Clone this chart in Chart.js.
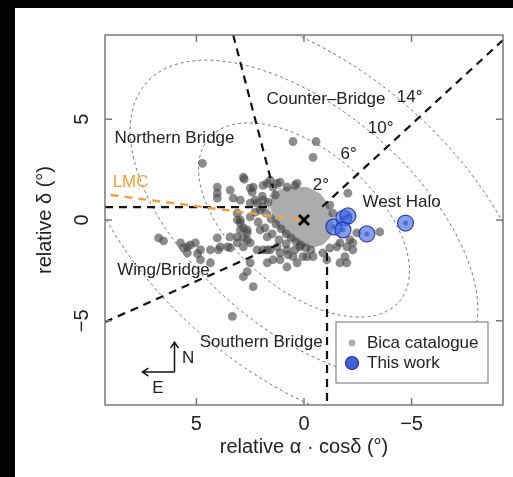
<!DOCTYPE html>
<html>
<head>
<meta charset="utf-8">
<title>SMC clusters</title>
<script src="https://cdn.jsdelivr.net/npm/chart.js@4.4.0/dist/chart.umd.min.js"></script>
<style>
  html, body { margin: 0; padding: 0; background: #000; }
  #wrap { position: absolute; left: 15px; top: 8px; width: 498px; height: 469px; background: #fff; }
</style>
</head>
<body>
<div id="wrap"><canvas id="smcChart" width="498" height="469"></canvas></div>
<script>
// ---- data (degrees, relative to SMC centre) ----
const bicaX = [0.51, -0.56, -0.42, 4.72, -2.04, 2.78, 4.03, 4.03, 4.03, 3.43, 2.96, 2.36, 1.71, 1.44, 1.11, 0.79, 0.32,
  2.82, 2.50, 1.90, 1.57, 1.25, 0.42, 2.18, 2.04, 2.50, 2.96, 2.64, 2.04, 1.71, 2.64, 3.10, 2.18, 1.71, 1.25, 0.79,
  0.19, -0.14, 0.51, 1.11, 1.71, 2.50, 2.82, 2.36, 1.44, 3.33, 6.76, 6.53, 5.74, 5.42, 5.05, 4.81, 4.95, 4.35, 3.98,
  3.56, 4.03, 3.43, 4.35, 4.81, 5.42, -1.20, -1.34, -2.13, -1.99, -2.45, -1.53, -1.20, -0.88, -0.42, 0.05, 0.42,
  -2.27, -1.99, -2.27, -3.52, -1.67, -1.90, -1.67, -1.06, 2.82, 2.96, 3.10, 2.50, 1.90, 1.90, 2.50, 2.82, 3.10, 1.57,
  1.11, 0.74, 2.27, 1.94, 1.67, 1.94, 1.76, 1.53, 1.30, 1.06, 0.83, 0.60, 0.37, 0.14, -0.09, -0.32, 2.13, 1.81, 1.48,
  1.16, 0.83, 2.27, 2.41, 1.34, 3.29, 3.10, 2.96, 2.82, 3.43, 3.89, 5.28, 5.60, 2.64, 2.64, 0.79, 0.32];
const bicaY = [3.89, 3.89, 3.10, 2.81, 1.33, 2.02, 1.63, 1.33, 1.08, 1.48, 0.99, 1.63, 1.82, 1.63, 1.87, 1.63, 1.82,
  2.12, 1.58, 1.72, 1.97, 1.82, 1.72, 0.84, 0.49, 0.15, -0.15, -0.49, -0.49, -0.84, -0.99, -1.13, -1.48, -1.48, -1.33,
  -1.48, -1.33, -1.82, -1.82, -1.97, -2.12, -2.12, -2.81, -3.30, -1.97, -4.78, -0.89, -1.03, -1.13, -1.33, -1.13,
  -1.48, -1.67, -1.48, -1.48, -1.33, -0.89, -0.84, -2.12, -1.97, -1.63, 0.74, 0.34, -0.99, -1.33, -0.64, -1.33, -1.38,
  -1.63, -1.82, -1.82, -1.48, -1.48, -2.12, -1.13, -0.59, -1.13, -1.82, -2.12, -1.97, -0.39, 0.00, 0.34, 0.84, 0.99,
  -1.48, -1.13, -1.33, -0.84, -1.48, -1.63, -1.72, 0.99, 1.18, 0.89, 0.64, 0.34, 0.05, -0.20, -0.44, -0.69, -0.89,
  -1.08, -1.23, -1.38, -1.48, -0.10, -0.39, -0.69, -0.99, -1.18, 0.39, 1.38, 1.23, 1.08, 0.00, -0.49, -0.89, -1.38,
  -1.33, -1.23, -1.38, -0.64, -2.56, -2.33, -2.12];

// outline of the dense Bica core
const coreX = [1.44, 0.79, -0.14, -0.74, -1.11, -1.30, -1.39, -1.20, -0.88, -0.42, 0.09, 0.65, 1.11, 1.44, 1.57, 1.53];
const coreY = [1.38, 1.63, 1.63, 1.33, 0.84, 0.25, -0.39, -0.89, -1.23, -1.38, -1.28, -0.94, -0.49, 0.05, 0.64, 1.08];

const workX = [-1.39, -1.85, -2.04, -1.81, -2.92, -4.72];
const workY = [-0.34, 0.10, 0.20, -0.49, -0.69, -0.15];

// region boundaries (start, end)
const boundX = [[3.29, 1.44], [-9.25, -0.83], [9.25, 1.67], [9.25, 1.02], [-1.07, -1.07]];
const boundY = [[9.17, 1.59], [8.92, 0.64], [0.64, 0.64], [-5.06, -1.14], [-1.64, -9.17]];
const lmcX = [8.99, 0.1];
const lmcY = [1.24, 0.0];

// elliptical distance contours
const contourLabels = ['2°', '6°', '10°', '14°'];
const contourMajor = [2, 6, 10, 13];
const contourMinor = [1.15, 3.35, 5.3, 7.4];
const contourAngle = 44; // degrees

const xTicks = [5, 0, -5];
const yTicks = [5, 0, -5];

const FONT = '"Liberation Sans", Arial, Helvetica, sans-serif';
const fmt = v => (v < 0 ? '\u2212' + Math.abs(v) : String(v));

const labels = [
  { text: 'Counter\u2013Bridge', x: -1.02, y: 6.0 },
  { text: '14°', x: -4.91, y: 6.1 },
  { text: '10°', x: -3.56, y: 4.55 },
  { text: '6°', x: -2.08, y: 3.28 },
  { text: '2°', x: -0.79, y: 1.72 },
  { text: 'West Halo', x: -4.54, y: 0.9 },
  { text: 'Northern Bridge', x: 6.02, y: 4.05 },
  { text: 'Wing/Bridge', x: 6.53, y: -2.48 },
  { text: 'Southern Bridge', x: 1.99, y: -6.05 },
  { text: 'LMC', x: 8.06, y: 1.87, color: '#f0a032' }
];

const pts = (xs, ys) => xs.map((x, i) => ({ x, y: ys[i] }));

const boundSets = boundX.map((bx, i) => ({
  data: pts(bx, boundY[i]), showLine: true, borderColor: '#111', borderWidth: 2.2,
  borderDash: [8, 6], pointRadius: 0, order: 3
}));

const extras = {
  id: 'extras',
  beforeDatasetsDraw(chart) {
    const { ctx, chartArea: a, scales: { x, y } } = chart;
    ctx.save();
    ctx.beginPath(); ctx.rect(a.left, a.top, a.width, a.height); ctx.clip();
    // contours
    const th = contourAngle * Math.PI / 180;
    ctx.strokeStyle = '#666'; ctx.lineWidth = 0.9; ctx.setLineDash([3, 3]);
    contourMajor.forEach((ma, i) => {
      const mi = contourMinor[i];
      ctx.beginPath();
      for (let k = 0; k <= 240; k++) {
        const t = k / 240 * 2 * Math.PI;
        const u = ma * Math.cos(t), w = mi * Math.sin(t);
        const dx = u * Math.cos(th) - w * Math.sin(th);
        const dy = u * Math.sin(th) + w * Math.cos(th);
        const X = x.getPixelForValue(dx), Y = y.getPixelForValue(dy);
        k ? ctx.lineTo(X, Y) : ctx.moveTo(X, Y);
      }
      ctx.stroke();
    });
    // dense core
    ctx.setLineDash([]);
    ctx.fillStyle = '#acacac';
    ctx.beginPath();
    coreX.forEach((cx, i) => {
      const X = x.getPixelForValue(cx), Y = y.getPixelForValue(coreY[i]);
      i ? ctx.lineTo(X, Y) : ctx.moveTo(X, Y);
    });
    ctx.closePath(); ctx.fill();
    ctx.restore();
  },
  afterDatasetsDraw(chart) {
    const { ctx, chartArea: a, scales: { x, y } } = chart;
    ctx.save();
    // frame and inward ticks
    ctx.strokeStyle = '#7a7a7a'; ctx.lineWidth = 1.5;
    ctx.strokeRect(a.left, a.top, a.width, a.height);
    ctx.beginPath();
    xTicks.forEach(v => {
      const p = x.getPixelForValue(v);
      ctx.moveTo(p, a.bottom); ctx.lineTo(p, a.bottom - 7);
      ctx.moveTo(p, a.top); ctx.lineTo(p, a.top + 7);
    });
    yTicks.forEach(v => {
      const p = y.getPixelForValue(v);
      ctx.moveTo(a.left, p); ctx.lineTo(a.left + 7, p);
      ctx.moveTo(a.right, p); ctx.lineTo(a.right - 7, p);
    });
    ctx.stroke();
    // rotated y tick labels
    ctx.fillStyle = '#222'; ctx.font = '20px ' + FONT;
    ctx.textAlign = 'center'; ctx.textBaseline = 'middle';
    yTicks.forEach(v => {
      ctx.save();
      ctx.translate(a.left - 23, y.getPixelForValue(v));
      ctx.rotate(-Math.PI / 2);
      ctx.fillText(fmt(v), 0, 0);
      ctx.restore();
    });
    // region labels
    ctx.font = '17px ' + FONT;
    labels.forEach(l => {
      ctx.fillStyle = l.color || '#222';
      ctx.fillText(l.text, x.getPixelForValue(l.x), y.getPixelForValue(l.y));
    });
    // compass
    const cx = x.getPixelForValue(6.02), cy = y.getPixelForValue(-7.54);
    const ny = y.getPixelForValue(-6.05), ex = x.getPixelForValue(7.51);
    ctx.strokeStyle = '#111'; ctx.lineWidth = 1.5;
    ctx.beginPath();
    ctx.moveTo(cx, cy); ctx.lineTo(cx, ny);
    ctx.moveTo(cx - 4, ny + 6); ctx.lineTo(cx, ny); ctx.lineTo(cx + 4, ny + 6);
    ctx.moveTo(cx, cy); ctx.lineTo(ex, cy);
    ctx.moveTo(ex + 6, cy - 4); ctx.lineTo(ex, cy); ctx.lineTo(ex + 6, cy + 4);
    ctx.stroke();
    ctx.fillStyle = '#222';
    ctx.fillText('N', x.getPixelForValue(5.38), y.getPixelForValue(-6.84));
    ctx.fillText('E', x.getPixelForValue(6.79), y.getPixelForValue(-8.33));
    // legend
    const lw = 152, lh = 61;
    const lx = a.right - 15 - lw, ly = a.bottom - 22 - lh;
    ctx.fillStyle = '#fff'; ctx.fillRect(lx, ly, lw, lh);
    ctx.strokeStyle = '#888'; ctx.lineWidth = 1.2; ctx.strokeRect(lx, ly, lw, lh);
    ctx.fillStyle = '#b0b0b0';
    ctx.beginPath(); ctx.arc(lx + 16, ly + 21, 3.5, 0, 2 * Math.PI); ctx.fill();
    ctx.fillStyle = '#4262dc'; ctx.strokeStyle = '#1c2f9c'; ctx.lineWidth = 1.2;
    ctx.beginPath(); ctx.arc(lx + 16, ly + 41, 6.5, 0, 2 * Math.PI); ctx.fill(); ctx.stroke();
    ctx.fillStyle = '#222'; ctx.textAlign = 'left';
    ctx.fillText('Bica catalogue', lx + 31, ly + 21);
    ctx.fillText('This work', lx + 31, ly + 41);
    ctx.restore();
  }
};

new Chart(document.getElementById('smcChart'), {
  type: 'scatter',
  data: {
    datasets: [
      { data: [{ x: 0, y: 0 }], pointStyle: 'crossRot', pointRadius: 7, borderColor: '#000',
        borderWidth: 3, order: 0 },
      { data: pts(workX, workY), pointRadius: 2.5, backgroundColor: 'rgba(40,70,200,0.55)',
        borderWidth: 0, order: 1 },
      { label: 'This work', data: pts(workX, workY), pointRadius: 8,
        backgroundColor: 'rgba(60,100,225,0.62)', borderColor: 'rgba(25,45,170,0.85)',
        borderWidth: 1.2, order: 2 },
      { data: pts(lmcX, lmcY), showLine: true, borderColor: '#f2a23a', borderWidth: 2.4,
        borderDash: [8, 6], pointRadius: 0, order: 3 },
      ...boundSets,
      { label: 'Bica catalogue', data: pts(bicaX, bicaY), pointRadius: 4.4,
        backgroundColor: 'rgba(70,70,70,0.62)', borderWidth: 0, order: 4 }
    ]
  },
  options: {
    responsive: false,
    animation: false,
    layout: { padding: { top: 27, right: 9, left: 0, bottom: 0 } },
    plugins: { legend: { display: false }, tooltip: { enabled: false } },
    scales: {
      x: {
        type: 'linear', reverse: true, min: -9.25, max: 9.25,
        afterBuildTicks: s => { s.ticks = xTicks.map(v => ({ value: v })); },
        afterFit: s => { s.height = 72; },
        grid: { display: false, drawTicks: false, tickLength: 0 }, border: { display: false },
        ticks: { padding: 7, color: '#222', font: { size: 20, family: FONT },
          maxRotation: 0, autoSkip: false, callback: v => fmt(v) },
        title: { display: true, text: 'relative α · cosδ (°)', color: '#222',
          font: { size: 20, family: FONT }, padding: { top: 0, bottom: 18 } }
      },
      y: {
        type: 'linear', min: -9.17, max: 9.17,
        afterBuildTicks: s => { s.ticks = yTicks.map(v => ({ value: v })); },
        afterFit: s => { s.width = 90; },
        grid: { display: false }, border: { display: false },
        ticks: { display: false },
        title: { display: true, text: 'relative δ (°)', color: '#222',
          font: { size: 20, family: FONT }, padding: { top: 18, bottom: 0 } }
      }
    }
  },
  plugins: [extras]
});
</script>
</body>
</html>
